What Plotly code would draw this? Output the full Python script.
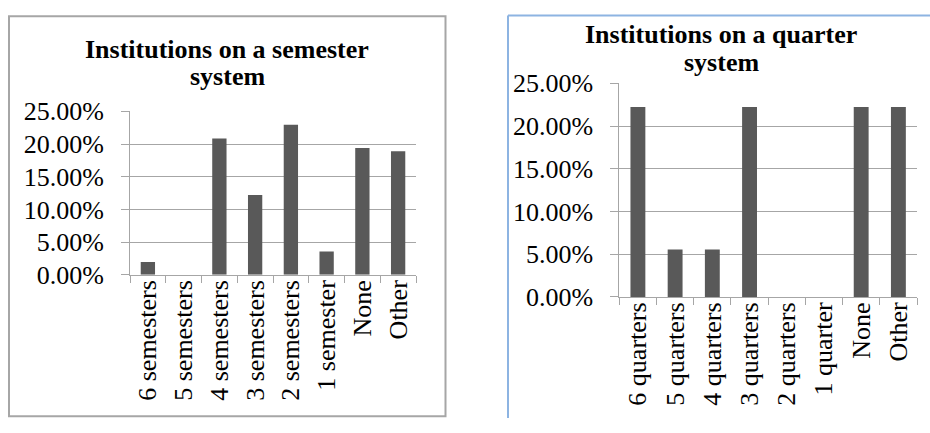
import plotly.graph_objects as go

# Share of institutions by number of terms
semester_labels = ["6 semesters", "5 semesters", "4 semesters", "3 semesters",
                   "2 semesters", "1 semester", "None", "Other"]
semester_values = [0.0196, 0.0, 0.2086, 0.1219, 0.2295, 0.0357, 0.1938, 0.1890]

quarter_labels = ["6 quarters", "5 quarters", "4 quarters", "3 quarters",
                  "2 quarters", "1 quarter", "None", "Other"]
quarter_values = [4/18, 1/18, 1/18, 4/18, 0.0, 0.0, 4/18, 4/18]

y_ticks = [0, 0.05, 0.10, 0.15, 0.20, 0.25]

W, H = 930, 433
FONT = "Liberation Serif, Times New Roman, serif"
BAR = "#595959"
GRID = "#a6a6a6"


def px_x(v):
    return v / W


def px_y(v):
    return 1 - v / H


fig = go.Figure()
fig.add_trace(go.Bar(x=semester_labels, y=semester_values, marker_color=BAR,
                     marker_line_width=0, xaxis="x", yaxis="y", showlegend=False))
fig.add_trace(go.Bar(x=quarter_labels, y=quarter_values, marker_color=BAR,
                     marker_line_width=0, xaxis="x2", yaxis="y2", showlegend=False))

xcommon = dict(type="category", showgrid=False, showline=True, linecolor=GRID,
               linewidth=1, ticks="outside", tickson="boundaries", ticklen=7,
               tickcolor=GRID, tickangle=-90, ticklabelstandoff=-6,
               tickfont=dict(family=FONT, size=26, color="black"), fixedrange=True)
ycommon = dict(range=[0, 0.25], tickvals=y_ticks, tickformat=".2%",
               showgrid=True, gridcolor=GRID, gridwidth=1, showline=True,
               linecolor=GRID, linewidth=1, ticks="outside", ticklen=8,
               tickcolor=GRID, zeroline=False, ticklabelstandoff=12,
               tickfont=dict(family=FONT, size=26, color="black"), fixedrange=True)

fig.update_layout(
    width=W, height=H,
    margin=dict(l=0, r=0, t=0, b=0),
    paper_bgcolor="white", plot_bgcolor="white",
    bargap=0.6,
    xaxis=dict(domain=[px_x(130), px_x(416)], anchor="y", **xcommon),
    yaxis=dict(domain=[px_y(279.5), px_y(104.3)], anchor="x", **ycommon),
    xaxis2=dict(domain=[px_x(619.3), px_x(917)], anchor="y2", **xcommon),
    yaxis2=dict(domain=[px_y(303.3), px_y(74.3)], anchor="x2", **ycommon),
)

# Chart frames
fig.add_shape(type="rect", xref="paper", yref="paper",
              x0=px_x(9), x1=px_x(445.5), y0=px_y(431), y1=px_y(2.5),
              line=dict(color=GRID, width=2), fillcolor="rgba(0,0,0,0)")
fig.add_shape(type="line", xref="paper", yref="paper",
              x0=px_x(508), x1=px_x(508), y0=0, y1=px_y(1.5),
              line=dict(color="#8db4e2", width=2))
fig.add_shape(type="line", xref="paper", yref="paper",
              x0=px_x(508), x1=1, y0=px_y(1.5), y1=px_y(1.5),
              line=dict(color="#8db4e2", width=2))

# Titles (two lines each)
titles = [
    (227, 47, "Institutions on a semester"), (227, 76, "system"),
    (721, 31, "Institutions on a quarter"), (721, 61, "system"),
]
for cx, base, txt in titles:
    fig.add_annotation(text="<b>%s</b>" % txt, xref="paper", yref="paper",
                       x=px_x(cx), y=px_y(base - 9), xanchor="center", yanchor="middle",
                       showarrow=False, font=dict(family=FONT, size=26, color="black"))

fig.write_html("out.html")
